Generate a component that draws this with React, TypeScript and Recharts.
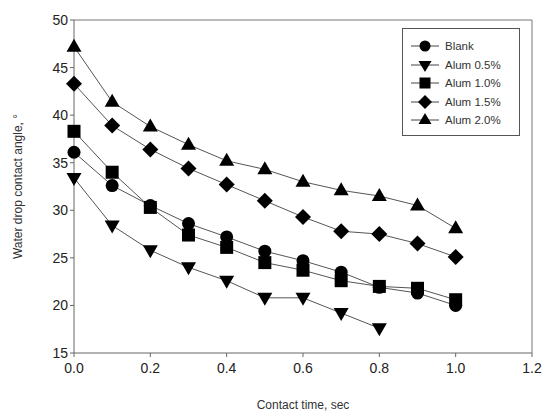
import { LineChart, Line, XAxis, YAxis, ReferenceLine } from "recharts"

const times = [0, 0.1, 0.2, 0.3, 0.4, 0.5, 0.6, 0.7, 0.8, 0.9, 1.0]
const blank = [36.1, 32.6, 30.5, 28.6, 27.2, 25.7, 24.7, 23.5, 21.9, 21.3, 20.0]
const alum05 = [33.4, 28.4, 25.8, 24.0, 22.6, 20.8, 20.8, 19.2, 17.6]
const alum10 = [38.3, 34.0, 30.3, 27.4, 26.1, 24.5, 23.7, 22.6, 22.0, 21.8, 20.6]
const alum15 = [43.3, 38.9, 36.4, 34.4, 32.7, 31.0, 29.3, 27.8, 27.5, 26.5, 25.1]
const alum20 = [47.2, 41.4, 38.8, 36.9, 35.2, 34.3, 33.0, 32.1, 31.5, 30.5, 28.1]

const xTicks = [0, 0.2, 0.4, 0.6, 0.8, 1.0, 1.2]
const yTicks = [15, 20, 25, 30, 35, 40, 45, 50]

const series = [
  { key: "blank", name: "Blank", shape: "circle", values: blank },
  { key: "alum05", name: "Alum 0.5%", shape: "down", values: alum05 },
  { key: "alum10", name: "Alum 1.0%", shape: "square", values: alum10 },
  { key: "alum15", name: "Alum 1.5%", shape: "diamond", values: alum15 },
  { key: "alum20", name: "Alum 2.0%", shape: "up", values: alum20 },
]

const rows = times.map((t, i) => {
  const row: any = { t }
  series.forEach((s) => {
    if (i < s.values.length) row[s.key] = s.values[i]
  })
  return row
})

const font = "'Liberation Sans', Arial, sans-serif"

function Marker({ cx, cy, shape, r = 7 }: any) {
  if (cx == null || cy == null) return null
  if (shape === "circle") return <circle cx={cx} cy={cy} r={r - 0.5} fill="#000" />
  if (shape === "square") return <rect x={cx - r + 0.5} y={cy - r + 0.5} width={2 * r - 1} height={2 * r - 1} fill="#000" />
  if (shape === "diamond")
    return <polygon points={`${cx},${cy - r - 1} ${cx + r + 1},${cy} ${cx},${cy + r + 1} ${cx - r - 1},${cy}`} fill="#000" />
  if (shape === "up")
    return <polygon points={`${cx},${cy - r - 1} ${cx + r + 0.5},${cy + r - 2} ${cx - r - 0.5},${cy + r - 2}`} fill="#000" />
  return <polygon points={`${cx},${cy + r + 1} ${cx + r + 0.5},${cy - r + 2} ${cx - r - 0.5},${cy - r + 2}`} fill="#000" />
}

function LegendBox() {
  return (
    <div
      style={{
        position: "absolute",
        left: 402,
        top: 28,
        border: "1px solid #555",
        background: "#fff",
        width: 118,
        height: 108,
        boxSizing: "border-box",
        padding: "8px 0 0 0",
        fontFamily: font,
        fontSize: 11.5,
        color: "#333",
      }}
    >
      {series.map((s) => (
        <div key={s.key} style={{ display: "flex", alignItems: "center", height: 18.5 }}>
          <svg width={34} height={16} style={{ marginLeft: 8 }}>
            <line x1={0} y1={8} x2={28} y2={8} stroke="#444" strokeWidth={1} />
            <Marker cx={14} cy={8} shape={s.shape} r={6} />
          </svg>
          <span>{s.name}</span>
        </div>
      ))}
    </div>
  )
}

export default function App() {
  return (
    <div style={{ position: "relative", width: 556, height: 417, background: "#fff" }}>
      <style>{`body{margin:0}`}</style>
      <LineChart
        width={556}
        height={417}
        data={rows}
        margin={{ top: 20, right: 24, bottom: 8, left: 16 }}
        style={{ fontFamily: font }}
      >
        <XAxis
          dataKey="t"
          type="number"
          domain={[0, 1.2]}
          ticks={xTicks}
          tickFormatter={(v) => v.toFixed(1)}
          stroke="#666"
          tickSize={4}
          tickMargin={6}
          tick={{ fill: "#222", fontSize: 14 }}
          height={56}
          label={{ value: "Contact time, sec", position: "insideBottom", offset: 0, fill: "#333", fontSize: 12 }}
        />
        <YAxis
          type="number"
          domain={[15, 50]}
          ticks={yTicks}
          stroke="#666"
          tickSize={4}
          tick={{ fill: "#222", fontSize: 14 }}
          width={58}
          label={{ value: "Water drop contact angle, °", angle: -90, position: "insideLeft", offset: 2, fill: "#333", fontSize: 12, style: { textAnchor: "middle" } }}
        />
        <ReferenceLine y={50} stroke="#777" />
        <ReferenceLine x={1.2} stroke="#777" />
        {series.map((s) => (
          <Line
            key={s.key}
            dataKey={s.key}
            name={s.name}
            stroke="#555"
            strokeWidth={1}
            isAnimationActive={false}
            connectNulls={false}
            dot={(p: any) => <Marker key={`${s.key}-${p.index}`} cx={p.cx} cy={p.cy} shape={s.shape} />}
            activeDot={false}
          />
        ))}
      </LineChart>
      <LegendBox />
    </div>
  )
}
